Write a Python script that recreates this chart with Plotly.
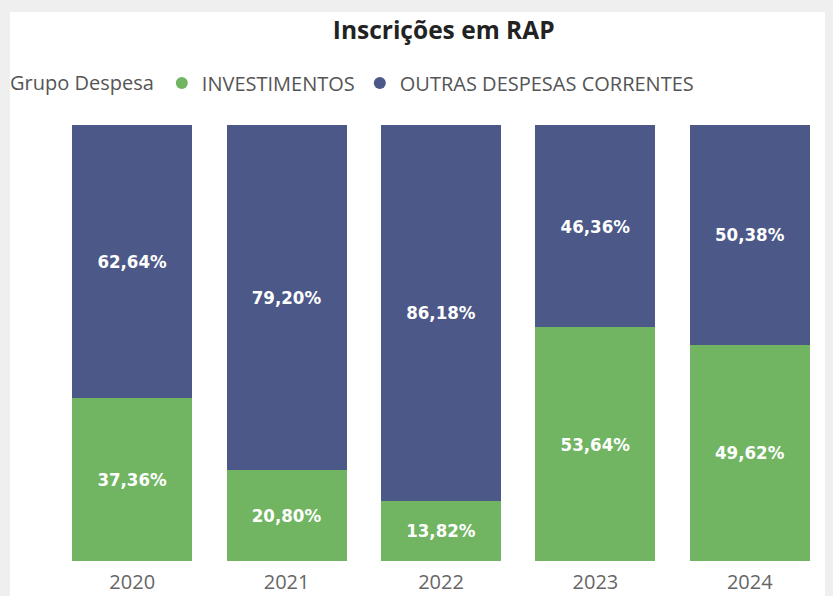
import plotly.graph_objects as go

years = ["2020", "2021", "2022", "2023", "2024"]
investimentos = [37.36, 20.80, 13.82, 53.64, 49.62]
outras = [62.64, 79.20, 86.18, 46.36, 50.38]
series_names = ["INVESTIMENTOS", "OUTRAS DESPESAS CORRENTES"]

GREEN = "#71B462"
BLUE = "#4B5888"
label_font = dict(family="DejaVu Sans Condensed, Liberation Sans Narrow, Roboto", size=18.5, color="white")

fig = go.Figure()
for vals, name, col in [(investimentos, series_names[0], GREEN), (outras, series_names[1], BLUE)]:
    fig.add_trace(go.Bar(
        x=years, y=vals, name=name, showlegend=False,
        marker=dict(color=col, line=dict(width=0)),
        texttemplate="<b>%{y:.2f}%</b>", textposition="inside",
        insidetextanchor="middle", textfont=label_font, textangle=0,
    ))
# circle legend entries
for name, col in [(series_names[0], GREEN), (series_names[1], BLUE)]:
    fig.add_trace(go.Scatter(
        x=[None], y=[None], mode="markers", name=name,
        marker=dict(color=col, size=19, symbol="circle"),
    ))

# plot area in figure px: left 46.75, right 818.75, top 117, bottom 553
fig.update_layout(
    width=833, height=596,
    barmode="stack", bargap=0.223,
    separators=",.",
    paper_bgcolor="white", plot_bgcolor="white",
    margin=dict(l=47, r=14, t=117, b=43),
    title=dict(text="<b>Inscrições em RAP</b>", x=0.523, xanchor="center",
               xref="container", y=0.963, yanchor="middle",
               font=dict(family="Open Sans, Noto Sans", size=24.5, color="#222")),
    legend=dict(orientation="h", xref="container", yref="container",
                x=-0.012, xanchor="left", y=1 - 75 / 596, yanchor="middle",
                title=dict(text="Grupo Despesa", font=dict(family="Open Sans", size=20, color="#555")),
                font=dict(family="Open Sans", size=20, color="#555"),
                itemsizing="constant", itemwidth=30, traceorder="normal",
                bgcolor="rgba(0,0,0,0)"),
    xaxis=dict(showgrid=False, showline=False, ticks="", zeroline=False,
               automargin=False, ticklabelstandoff=7,
               tickfont=dict(family="Open Sans", size=20, color="#666")),
    yaxis=dict(range=[0, 100], visible=False),
)

# card shadow strips (top and left)
fig.add_shape(type="rect", xref="paper", yref="paper", layer="below",
              x0=-0.1, x1=1.1, y0=(553-4)/436, y1=(553+10)/436,
              fillcolor="#EFEFEF", line=dict(width=0))
fig.add_shape(type="rect", xref="paper", yref="paper", layer="below",
              x0=(0-47)/772, x1=(2-47)/772, y0=-0.2, y1=1.4,
              fillcolor="#EFEFEF", line=dict(width=0))

fig.write_html("out.html", post_script="document.body.style.background='#EFEFEF';")
